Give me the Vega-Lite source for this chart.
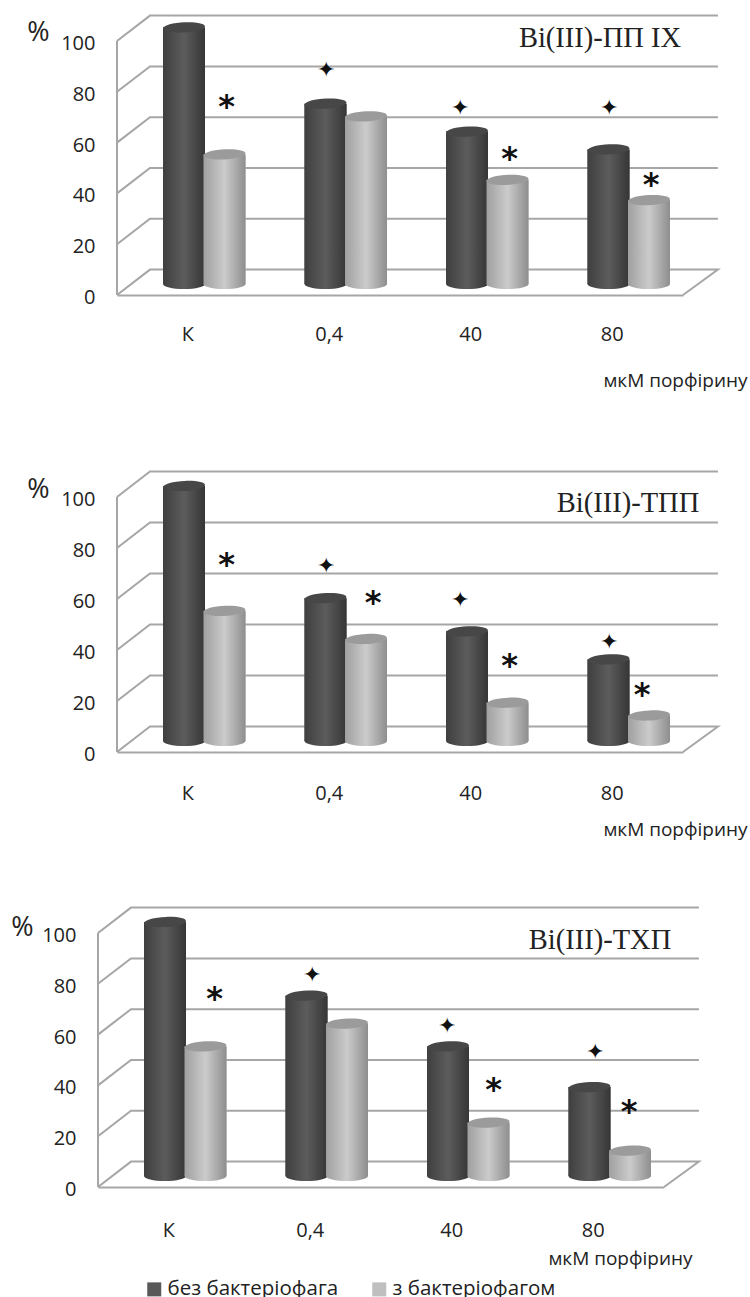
{"$schema":"https://vega.github.io/schema/vega-lite/v6.json","padding":0,"background":"white","spacing":140,"bounds":"flush","config":{"view":{"stroke":null},"font":"Open Sans"},
"datasets":{
"wall":[{"l":"a","x":0,"y":0},{"l":"a","x":0,"y":100},
{"l":"g100","x":0,"y":100},{"l":"g100","x":0.233,"y":110},{"l":"g100","x":4.247,"y":110},
{"l":"g80","x":0,"y":80},{"l":"g80","x":0.233,"y":90},{"l":"g80","x":4.247,"y":90},
{"l":"g60","x":0,"y":60},{"l":"g60","x":0.233,"y":70},{"l":"g60","x":4.247,"y":70},
{"l":"g40","x":0,"y":40},{"l":"g40","x":0.233,"y":50},{"l":"g40","x":4.247,"y":50},
{"l":"g20","x":0,"y":20},{"l":"g20","x":0.233,"y":30},{"l":"g20","x":4.247,"y":30},
{"l":"g0","x":0,"y":0},{"l":"g0","x":0.233,"y":10},{"l":"g0","x":4.247,"y":10},{"l":"g0","x":4,"y":0}],
"b1":[{"c":"К","s":"без бактеріофага","v":101},{"c":"0,4","s":"без бактеріофага","v":71},{"c":"40","s":"без бактеріофага","v":60},{"c":"80","s":"без бактеріофага","v":53},{"c":"К","s":"з бактеріофагом","v":51},{"c":"0,4","s":"з бактеріофагом","v":66},{"c":"40","s":"з бактеріофагом","v":41},{"c":"80","s":"з бактеріофагом","v":33}],
"b2":[{"c":"К","s":"без бактеріофага","v":100},{"c":"0,4","s":"без бактеріофага","v":56},{"c":"40","s":"без бактеріофага","v":43},{"c":"80","s":"без бактеріофага","v":32},{"c":"К","s":"з бактеріофагом","v":51},{"c":"0,4","s":"з бактеріофагом","v":40},{"c":"40","s":"з бактеріофагом","v":15},{"c":"80","s":"з бактеріофагом","v":10}],
"b3":[{"c":"К","s":"без бактеріофага","v":100},{"c":"0,4","s":"без бактеріофага","v":71},{"c":"40","s":"без бактеріофага","v":51},{"c":"80","s":"без бактеріофага","v":35},{"c":"К","s":"з бактеріофагом","v":51},{"c":"0,4","s":"з бактеріофагом","v":60},{"c":"40","s":"з бактеріофагом","v":21},{"c":"80","s":"з бактеріофагом","v":10}],
"n1":[{"c":"К","s":"з бактеріофагом","m":"*","v":74},{"c":"40","s":"з бактеріофагом","m":"*","v":53.6},{"c":"80","s":"з бактеріофагом","m":"*","v":43.2},{"c":"0,4","s":"без бактеріофага","m":"✦","v":88.6},{"c":"40","s":"без бактеріофага","m":"✦","v":73.8},{"c":"80","s":"без бактеріофага","m":"✦","v":73.8}],
"n2":[{"c":"К","s":"з бактеріофагом","m":"*","v":73.2},{"c":"0,4","s":"з бактеріофагом","m":"*","v":58.6},{"c":"40","s":"з бактеріофагом","m":"*","v":33.6},{"c":"80","s":"з бактеріофагом","m":"*","v":22.2},{"c":"0,4","s":"без бактеріофага","m":"✦","v":72.8},{"c":"40","s":"без бактеріофага","m":"✦","v":59.6},{"c":"80","s":"без бактеріофага","m":"✦","v":43.2}],
"n3":[{"c":"К","s":"з бактеріофагом","m":"*","v":74.2},{"c":"40","s":"з бактеріофагом","m":"*","v":38},{"c":"80","s":"з бактеріофагом","m":"*","v":29.6},{"c":"0,4","s":"без бактеріофага","m":"✦","v":83.6},{"c":"40","s":"без бактеріофага","m":"✦","v":63.2},{"c":"80","s":"без бактеріофага","m":"✦","v":53.2}]
},
"vconcat":[
{"width":750,"height":295,"resolve":{"scale":{"x":"independent"}},"layer":[
{"data":{"name":"wall"},"mark":{"type":"line","color":"#a6a6a6","strokeWidth":2,"interpolate":"linear"},"encoding":{"detail":{"field":"l"},"order":{"field":"__none","type":"quantitative"},"x":{"field":"x","type":"quantitative","axis":null,"scale":{"domain":[0,4],"range":[117,683],"nice":false,"zero":false}},"y":{"field":"y","type":"quantitative","scale":{"domain":[0,116.14],"nice":false},"axis":{"values":[0,20,40,60,80,100],"offset":-117,"domain":false,"ticks":false,"grid":false,"labelPadding":22,"labelOffset":2.5,"labelFontSize":20,"labelColor":"#222","labelFont":"Open Sans","title":"%","titleAngle":0,"titleFont":"Open Sans","titleFontSize":27,"titleFontWeight":"normal","titleColor":"#222","titleX":-79,"titleY":46,"titleAlign":"center"}}}},
{"data":{"name":"b1"},"encoding":{"x":{"field":"c","type":"nominal","sort":["К","0,4","40","80"],"scale":{"domain":["К","0,4","40","80"],"range":[117,683],"paddingInner":0,"paddingOuter":0},"axis":{"ticks":false,"domain":true,"domainColor":"#a6a6a6","domainWidth":2,"labelAngle":0,"labelPadding":29,"labelFontSize":20,"labelColor":"#222","labelFont":"Open Sans","title":"мкМ порфірину","titleFont":"Open Sans","titleFontSize":19,"titleFontWeight":"normal","titleColor":"#222","titleX":675,"titleY":76}},"xOffset":{"field":"s","type":"nominal","scale":{"type":"point","padding":0,"domain":["без бактеріофага","з бактеріофагом"],"range":[67,107.5]}},"y":{"field":"v","type":"quantitative"}},"layer":[
{"mark":{"type":"bar","width":42,"yOffset":-11,"y2Offset":-11},"encoding":{"y2":{"datum":0},"color":{"field":"s","type":"nominal","scale":{"domain":["без бактеріофага","з бактеріофагом"],"range":["#595959","#bfbfbf"]},"legend":{"orient":"none","legendX":144,"legendY":1279,"direction":"horizontal","columns":2,"title":null,"symbolType":"square","symbolSize":196,"labelFontSize":20.5,"labelOffset":3,"labelFont":"Open Sans","labelColor":"#222","labelLimit":300,"columnPadding":30}}}},
{"transform":[{"filter":"datum.s==='без бактеріофага'"}],"layer":[
{"mark":{"type":"point","filled":true,"opacity":1,"size":1764,"yOffset":-11,"shape":"M-1,0 A1,0.24,0,1,1,1,0 A1,0.24,0,1,1,-1,0 Z","color":{"gradient":"linear","stops":[{"offset":0,"color":"#3f3f3f"},{"offset":0.5,"color":"#5c5c5c"},{"offset":1,"color":"#363636"}]}},"encoding":{"y":{"datum":0}}},
{"mark":{"type":"bar","width":42,"yOffset":-11,"y2Offset":-11,"color":{"gradient":"linear","stops":[{"offset":0,"color":"#3f3f3f"},{"offset":0.5,"color":"#5c5c5c"},{"offset":1,"color":"#363636"}]}},"encoding":{"y2":{"datum":0}}},
{"mark":{"type":"point","filled":true,"opacity":1,"size":1764,"yOffset":-11,"color":"#474747","shape":"M-1,0.04 A1,0.24,-3,1,1,1,-0.04 A1,0.24,-3,1,1,-1,0.04 Z"}}]},
{"transform":[{"filter":"datum.s==='з бактеріофагом'"}],"layer":[
{"mark":{"type":"point","filled":true,"opacity":1,"size":1764,"yOffset":-11,"shape":"M-1,0 A1,0.24,0,1,1,1,0 A1,0.24,0,1,1,-1,0 Z","color":{"gradient":"linear","stops":[{"offset":0,"color":"#a0a0a0"},{"offset":0.5,"color":"#cbcbcb"},{"offset":1,"color":"#8e8e8e"}]}},"encoding":{"y":{"datum":0}}},
{"mark":{"type":"bar","width":42,"yOffset":-11,"y2Offset":-11,"color":{"gradient":"linear","stops":[{"offset":0,"color":"#a0a0a0"},{"offset":0.5,"color":"#cbcbcb"},{"offset":1,"color":"#8e8e8e"}]}},"encoding":{"y2":{"datum":0}}},
{"mark":{"type":"point","filled":true,"opacity":1,"size":1764,"yOffset":-11,"color":"#9b9b9b","shape":"M-1,0.04 A1,0.24,-3,1,1,1,-0.04 A1,0.24,-3,1,1,-1,0.04 Z"}}]},
{"data":{"name":"n1"},"transform":[{"filter":"datum.m==='*'"}],"mark":{"type":"text","font":"DejaVu Sans","fontWeight":"bold","fontSize":32,"color":"#111","dx":2},"encoding":{"text":{"field":"m"}}},
{"data":{"name":"n1"},"transform":[{"filter":"datum.m!=='*' && datum.c!=='40'"}],"mark":{"type":"text","fontSize":22,"color":"#111","dx":0},"encoding":{"text":{"field":"m"}}},
{"data":{"name":"n1"},"transform":[{"filter":"datum.m!=='*' && datum.c==='40'"}],"mark":{"type":"text","fontSize":22,"color":"#111","dx":-7},"encoding":{"text":{"field":"m"}}},
{"data":{"values":[{"label":"Bi(III)-ПП IX","c":"40","v":101.2}]},"mark":{"type":"text","font":"Liberation Serif","fontSize":28.5,"color":"#222","dx":200},"encoding":{"xOffset":{"value":0},"text":{"field":"label"}}}
]}]},
{"width":750,"height":317,"resolve":{"scale":{"x":"independent"}},"layer":[
{"data":{"name":"wall"},"mark":{"type":"line","color":"#a6a6a6","strokeWidth":2},"encoding":{"detail":{"field":"l"},"order":{"field":"__none","type":"quantitative"},"x":{"field":"x","type":"quantitative","axis":null,"scale":{"domain":[0,4],"range":[117,683],"nice":false,"zero":false}},"y":{"field":"y","type":"quantitative","scale":{"domain":[0,124.3],"nice":false},"axis":{"values":[0,20,40,60,80,100],"offset":-117,"domain":false,"ticks":false,"grid":false,"labelPadding":22,"labelOffset":2.5,"labelFontSize":20,"labelColor":"#222","labelFont":"Open Sans","title":"%","titleAngle":0,"titleFont":"Open Sans","titleFontSize":27,"titleFontWeight":"normal","titleColor":"#222","titleX":-79,"titleY":68,"titleAlign":"center"}}}},
{"data":{"name":"b2"},"encoding":{"x":{"field":"c","type":"nominal","sort":["К","0,4","40","80"],"scale":{"domain":["К","0,4","40","80"],"range":[117,683],"paddingInner":0,"paddingOuter":0},"axis":{"ticks":false,"domain":true,"domainColor":"#a6a6a6","domainWidth":2,"labelAngle":0,"labelPadding":31,"labelFontSize":20,"labelColor":"#222","labelFont":"Open Sans","title":"мкМ порфірину","titleFont":"Open Sans","titleFontSize":19,"titleFontWeight":"normal","titleColor":"#222","titleX":675,"titleY":68}},"xOffset":{"field":"s","type":"nominal","scale":{"type":"point","padding":0,"domain":["без бактеріофага","з бактеріофагом"],"range":[67,107.5]}},"y":{"field":"v","type":"quantitative"}},"layer":[
{"mark":{"type":"bar","width":42,"yOffset":-11,"y2Offset":-11},"encoding":{"y2":{"datum":0},"color":{"field":"s","type":"nominal","scale":{"domain":["без бактеріофага","з бактеріофагом"],"range":["#595959","#bfbfbf"]}}}},
{"transform":[{"filter":"datum.s==='без бактеріофага'"}],"layer":[
{"mark":{"type":"point","filled":true,"opacity":1,"size":1764,"yOffset":-11,"shape":"M-1,0 A1,0.24,0,1,1,1,0 A1,0.24,0,1,1,-1,0 Z","color":{"gradient":"linear","stops":[{"offset":0,"color":"#3f3f3f"},{"offset":0.5,"color":"#5c5c5c"},{"offset":1,"color":"#363636"}]}},"encoding":{"y":{"datum":0}}},
{"mark":{"type":"bar","width":42,"yOffset":-11,"y2Offset":-11,"color":{"gradient":"linear","stops":[{"offset":0,"color":"#3f3f3f"},{"offset":0.5,"color":"#5c5c5c"},{"offset":1,"color":"#363636"}]}},"encoding":{"y2":{"datum":0}}},
{"mark":{"type":"point","filled":true,"opacity":1,"size":1764,"yOffset":-11,"color":"#474747","shape":"M-1,0.04 A1,0.24,-3,1,1,1,-0.04 A1,0.24,-3,1,1,-1,0.04 Z"}}]},
{"transform":[{"filter":"datum.s==='з бактеріофагом'"}],"layer":[
{"mark":{"type":"point","filled":true,"opacity":1,"size":1764,"yOffset":-11,"shape":"M-1,0 A1,0.24,0,1,1,1,0 A1,0.24,0,1,1,-1,0 Z","color":{"gradient":"linear","stops":[{"offset":0,"color":"#a0a0a0"},{"offset":0.5,"color":"#cbcbcb"},{"offset":1,"color":"#8e8e8e"}]}},"encoding":{"y":{"datum":0}}},
{"mark":{"type":"bar","width":42,"yOffset":-11,"y2Offset":-11,"color":{"gradient":"linear","stops":[{"offset":0,"color":"#a0a0a0"},{"offset":0.5,"color":"#cbcbcb"},{"offset":1,"color":"#8e8e8e"}]}},"encoding":{"y2":{"datum":0}}},
{"mark":{"type":"point","filled":true,"opacity":1,"size":1764,"yOffset":-11,"color":"#9b9b9b","shape":"M-1,0.04 A1,0.24,-3,1,1,1,-0.04 A1,0.24,-3,1,1,-1,0.04 Z"}}]},
{"data":{"name":"n2"},"transform":[{"filter":"datum.m==='*' && (datum.c==='К' || datum.c==='40')"}],"mark":{"type":"text","font":"DejaVu Sans","fontWeight":"bold","fontSize":32,"color":"#111","dx":2},"encoding":{"text":{"field":"m"}}},
{"data":{"name":"n2"},"transform":[{"filter":"datum.m==='*' && datum.c==='0,4'"}],"mark":{"type":"text","font":"DejaVu Sans","fontWeight":"bold","fontSize":32,"color":"#111","dx":7},"encoding":{"text":{"field":"m"}}},
{"data":{"name":"n2"},"transform":[{"filter":"datum.m==='*' && datum.c==='80'"}],"mark":{"type":"text","font":"DejaVu Sans","fontWeight":"bold","fontSize":32,"color":"#111","dx":-7},"encoding":{"text":{"field":"m"}}},
{"data":{"name":"n2"},"transform":[{"filter":"datum.m!=='*' && datum.c!=='40'"}],"mark":{"type":"text","fontSize":22,"color":"#111","dx":0},"encoding":{"text":{"field":"m"}}},
{"data":{"name":"n2"},"transform":[{"filter":"datum.m!=='*' && datum.c==='40'"}],"mark":{"type":"text","fontSize":22,"color":"#111","dx":-7},"encoding":{"text":{"field":"m"}}},
{"data":{"values":[{"label":"Bi(III)-ТПП","c":"40","v":97.6}]},"mark":{"type":"text","font":"Liberation Serif","fontSize":28.5,"color":"#222","dx":228},"encoding":{"xOffset":{"value":0},"text":{"field":"label"}}}
]}]},
{"width":750,"height":295,"resolve":{"scale":{"x":"independent"}},"layer":[
{"data":{"name":"wall"},"mark":{"type":"line","color":"#a6a6a6","strokeWidth":2},"encoding":{"detail":{"field":"l"},"order":{"field":"__none","type":"quantitative"},"x":{"field":"x","type":"quantitative","axis":null,"scale":{"domain":[0,4],"range":[98,664],"nice":false,"zero":false}},"y":{"field":"y","type":"quantitative","scale":{"domain":[0,116.14],"nice":false},"axis":{"values":[0,20,40,60,80,100],"offset":-98,"domain":false,"ticks":false,"grid":false,"labelPadding":22,"labelOffset":2.5,"labelFontSize":20,"labelColor":"#222","labelFont":"Open Sans","title":"%","titleAngle":0,"titleFont":"Open Sans","titleFontSize":27,"titleFontWeight":"normal","titleColor":"#222","titleX":-76,"titleY":49,"titleAlign":"center"}}}},
{"data":{"name":"b3"},"encoding":{"x":{"field":"c","type":"nominal","sort":["К","0,4","40","80"],"scale":{"domain":["К","0,4","40","80"],"range":[98,664],"paddingInner":0,"paddingOuter":0},"axis":{"ticks":false,"domain":true,"domainColor":"#a6a6a6","domainWidth":2,"labelAngle":0,"labelPadding":33,"labelFontSize":20,"labelColor":"#222","labelFont":"Open Sans","title":"мкМ порфірину","titleFont":"Open Sans","titleFontSize":19,"titleFontWeight":"normal","titleColor":"#222","titleX":620,"titleY":62}},"xOffset":{"field":"s","type":"nominal","scale":{"type":"point","padding":0,"domain":["без бактеріофага","з бактеріофагом"],"range":[67,107.5]}},"y":{"field":"v","type":"quantitative"}},"layer":[
{"mark":{"type":"bar","width":42,"yOffset":-11,"y2Offset":-11},"encoding":{"y2":{"datum":0},"color":{"field":"s","type":"nominal","scale":{"domain":["без бактеріофага","з бактеріофагом"],"range":["#595959","#bfbfbf"]}}}},
{"transform":[{"filter":"datum.s==='без бактеріофага'"}],"layer":[
{"mark":{"type":"point","filled":true,"opacity":1,"size":1764,"yOffset":-11,"shape":"M-1,0 A1,0.24,0,1,1,1,0 A1,0.24,0,1,1,-1,0 Z","color":{"gradient":"linear","stops":[{"offset":0,"color":"#3f3f3f"},{"offset":0.5,"color":"#5c5c5c"},{"offset":1,"color":"#363636"}]}},"encoding":{"y":{"datum":0}}},
{"mark":{"type":"bar","width":42,"yOffset":-11,"y2Offset":-11,"color":{"gradient":"linear","stops":[{"offset":0,"color":"#3f3f3f"},{"offset":0.5,"color":"#5c5c5c"},{"offset":1,"color":"#363636"}]}},"encoding":{"y2":{"datum":0}}},
{"mark":{"type":"point","filled":true,"opacity":1,"size":1764,"yOffset":-11,"color":"#474747","shape":"M-1,0.04 A1,0.24,-3,1,1,1,-0.04 A1,0.24,-3,1,1,-1,0.04 Z"}}]},
{"transform":[{"filter":"datum.s==='з бактеріофагом'"}],"layer":[
{"mark":{"type":"point","filled":true,"opacity":1,"size":1764,"yOffset":-11,"shape":"M-1,0 A1,0.24,0,1,1,1,0 A1,0.24,0,1,1,-1,0 Z","color":{"gradient":"linear","stops":[{"offset":0,"color":"#a0a0a0"},{"offset":0.5,"color":"#cbcbcb"},{"offset":1,"color":"#8e8e8e"}]}},"encoding":{"y":{"datum":0}}},
{"mark":{"type":"bar","width":42,"yOffset":-11,"y2Offset":-11,"color":{"gradient":"linear","stops":[{"offset":0,"color":"#a0a0a0"},{"offset":0.5,"color":"#cbcbcb"},{"offset":1,"color":"#8e8e8e"}]}},"encoding":{"y2":{"datum":0}}},
{"mark":{"type":"point","filled":true,"opacity":1,"size":1764,"yOffset":-11,"color":"#9b9b9b","shape":"M-1,0.04 A1,0.24,-3,1,1,1,-0.04 A1,0.24,-3,1,1,-1,0.04 Z"}}]},
{"data":{"name":"n3"},"transform":[{"filter":"datum.m==='*' && datum.c==='К'"}],"mark":{"type":"text","font":"DejaVu Sans","fontWeight":"bold","fontSize":32,"color":"#111","dx":9},"encoding":{"text":{"field":"m"}}},
{"data":{"name":"n3"},"transform":[{"filter":"datum.m==='*' && datum.c==='40'"}],"mark":{"type":"text","font":"DejaVu Sans","fontWeight":"bold","fontSize":32,"color":"#111","dx":5},"encoding":{"text":{"field":"m"}}},
{"data":{"name":"n3"},"transform":[{"filter":"datum.m==='*' && datum.c==='80'"}],"mark":{"type":"text","font":"DejaVu Sans","fontWeight":"bold","fontSize":32,"color":"#111","dx":-1},"encoding":{"text":{"field":"m"}}},
{"data":{"name":"n3"},"transform":[{"filter":"datum.m!=='*' && datum.c!=='40'"}],"mark":{"type":"text","fontSize":22,"color":"#111","dx":5},"encoding":{"text":{"field":"m"}}},
{"data":{"name":"n3"},"transform":[{"filter":"datum.m!=='*' && datum.c==='40'"}],"mark":{"type":"text","fontSize":22,"color":"#111","dx":-1},"encoding":{"text":{"field":"m"}}},
{"data":{"values":[{"label":"Bi(III)-ТХП","c":"40","v":97.2}]},"mark":{"type":"text","font":"Liberation Serif","fontSize":28.5,"color":"#222","dx":219},"encoding":{"xOffset":{"value":0},"text":{"field":"label"}}}
]}]}
]}
